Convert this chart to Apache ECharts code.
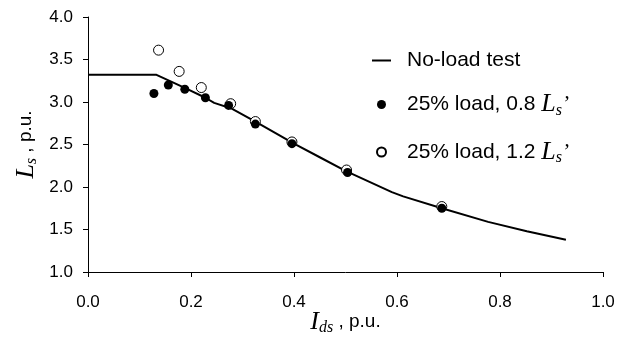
<!DOCTYPE html>
<html>
<head>
<meta charset="utf-8">
<script src="https://cdn.jsdelivr.net/npm/echarts@6/dist/echarts.min.js"></script>
<style>
html,body{margin:0;padding:0;background:#fff;}
#c{width:624px;height:337px;}
</style>
</head>
<body>
<div id="c"></div>
<script>
// No-load test curve (I_ds, L_s)
const noLoadX = [0, 0.133, 0.19, 0.228, 0.245, 0.28, 0.325, 0.4, 0.45, 0.5, 0.59, 0.612, 0.687, 0.777, 0.852, 0.928];
const noLoadY = [3.32, 3.32, 3.16, 3.05, 2.99, 2.92, 2.77, 2.51, 2.35, 2.19, 1.94, 1.89, 1.75, 1.59, 1.48, 1.38];
// 25% load, 0.8 Ls'
const load08X = [0.128, 0.156, 0.188, 0.228, 0.273, 0.325, 0.396, 0.504, 0.687];
const load08Y = [3.10, 3.20, 3.15, 3.05, 2.96, 2.74, 2.51, 2.17, 1.75];
// 25% load, 1.2 Ls'
const load12X = [0.137, 0.177, 0.220, 0.277, 0.325, 0.396, 0.502, 0.687];
const load12Y = [3.61, 3.36, 3.17, 2.98, 2.77, 2.53, 2.20, 1.77];
// axis ticks
const xTicks = [0.0, 0.2, 0.4, 0.6, 0.8, 1.0];
const yTicks = [1.0, 1.5, 2.0, 2.5, 3.0, 3.5, 4.0];
const seriesNames = ['No-load test', "25% load, 0.8 Ls'", "25% load, 1.2 Ls'"];

const zip = (a, b) => a.map((v, i) => [v, b[i]]);
const serif = 'Liberation Serif';
const sans = 'Liberation Sans';

const nameRich = {
  i: {fontFamily: serif, fontStyle: 'italic', fontSize: 26, lineHeight: 28, color: '#000'},
  sub: {fontFamily: serif, fontStyle: 'italic', fontSize: 16, lineHeight: 16, verticalAlign: 'bottom', color: '#000'},
  t: {fontFamily: sans, fontSize: 19, lineHeight: 28, color: '#000'}
};

const chart = echarts.init(document.getElementById('c'), null, {renderer: 'canvas'});
chart.setOption({
  animation: false,
  backgroundColor: '#fff',
  grid: {left: 88, right: 21, top: 17, bottom: 65, containLabel: false, outerBoundsMode: 'none'},
  xAxis: {
    type: 'value',
    min: xTicks[0], max: xTicks[xTicks.length - 1], interval: 0.2,
    axisLine: {show: true, lineStyle: {color: '#000', width: 1}},
    axisTick: {show: true, inside: false, length: 5, lineStyle: {color: '#000'}},
    splitLine: {show: false},
    axisLabel: {color: '#000', fontFamily: sans, fontSize: 17, margin: 22,
      formatter: v => v.toFixed(1)},
    name: '{i|I}{sub|ds}{t| , p.u.}',
    nameLocation: 'middle',
    nameGap: 36,
    nameMoveOverlap: false,
    nameTextStyle: {color: '#000', rich: nameRich}
  },
  yAxis: {
    type: 'value',
    min: yTicks[0], max: yTicks[yTicks.length - 1], interval: 0.5,
    axisLine: {show: true, lineStyle: {color: '#000', width: 1}},
    axisTick: {show: true, inside: false, length: 5, lineStyle: {color: '#000'}},
    splitLine: {show: false},
    axisLabel: {color: '#000', fontFamily: sans, fontSize: 17, margin: 15,
      formatter: v => v.toFixed(1)},
    name: '{i|L}{sub|s}{t| , p.u.}',
    nameLocation: 'middle',
    nameRotate: 90,
    nameGap: 48,
    nameMoveOverlap: false,
    nameTextStyle: {color: '#000', rich: nameRich}
  },
  legend: {
    orient: 'vertical',
    left: 366,
    top: 45,
    itemWidth: 19,
    itemHeight: 9,
    itemGap: 20.5,
    data: [
      {name: seriesNames[0], itemStyle: {opacity: 0, color: 'rgba(0,0,0,0)', borderWidth: 0}},
      {name: seriesNames[1], icon: 'circle'},
      {name: seriesNames[2], icon: 'circle'}
    ],
    formatter: function (name) {
      if (name === seriesNames[0]) return '{t|' + name + '}';
      const parts = name.split(' Ls');
      return '{t|' + parts[0] + ' }{i|L}{sub|s}{p|’}';
    },
    textStyle: {
      color: '#000',
      padding: [0, 0, 0, 11],
      rich: {
        t: {fontFamily: sans, fontSize: 21, lineHeight: 28, color: '#000'},
        i: {fontFamily: serif, fontStyle: 'italic', fontSize: 26, lineHeight: 28, color: '#000'},
        sub: {fontFamily: serif, fontStyle: 'italic', fontSize: 16, lineHeight: 16, verticalAlign: 'bottom', color: '#000'},
        p: {fontFamily: serif, fontStyle: 'italic', fontSize: 21, lineHeight: 28, color: '#000'}
      }
    }
  },
  series: [
    {
      name: seriesNames[0],
      type: 'line',
      data: zip(noLoadX, noLoadY),
      symbol: 'none',
      showSymbol: false,
      lineStyle: {color: '#000', width: 2},
      itemStyle: {color: '#000'},
      z: 1
    },
    {
      name: seriesNames[1],
      type: 'scatter',
      data: zip(load08X, load08Y),
      symbol: 'circle',
      symbolSize: 9,
      itemStyle: {color: '#000', opacity: 1},
      z: 4
    },
    {
      name: seriesNames[2],
      type: 'scatter',
      data: zip(load12X, load12Y),
      symbol: 'circle',
      symbolSize: 10,
      itemStyle: {color: '#fff', borderColor: '#000', borderWidth: 1, opacity: 1},
      z: 3
    }
  ]
});
</script>
</body>
</html>
